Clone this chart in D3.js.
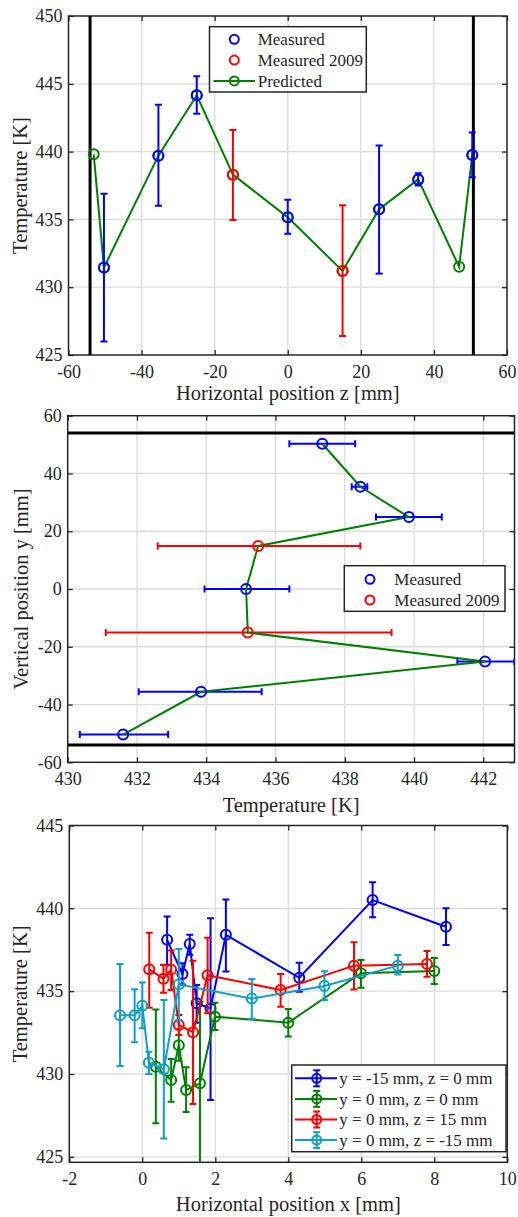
<!DOCTYPE html>
<html>
<head>
<meta charset="utf-8">
<script src="https://cdn.jsdelivr.net/npm/d3@7"></script>
<style>
  body { margin: 0; background: #fff; }
</style>
</head>
<body>
<div id="chart"></div>
<script>
// ---- panel 1: temperature along z ----
const zMeas = [-50.3, -35.4, -24.9, 0, 25, 35.7, 50.5];
const tzMeas = [431.45, 439.7, 444.15, 435.15, 435.75, 437.95, 439.75];
const tzMeasLo = [426.0, 436.0, 442.8, 433.95, 431.0, 437.5, 438.1];
const tzMeasHi = [436.9, 443.45, 445.55, 436.45, 440.45, 438.4, 441.4];
const z2009 = [-15, 15];
const tz2009 = [438.3, 431.2];
const tz2009Lo = [434.95, 426.4];
const tz2009Hi = [441.6, 436.05];
const zPred = [-53.1, -50.3, -35.4, -24.9, -15, 0, 15, 25, 35.7, 46.9, 50.5];
const tzPred = [439.8, 431.45, 439.7, 444.15, 438.3, 435.15, 431.2, 435.75, 437.95, 431.5, 439.75];
const zWalls = [-54.1, 50.8];
const zTicks = [-60, -40, -20, 0, 20, 40, 60];
const tTicks1 = [425, 430, 435, 440, 445, 450];

// ---- panel 2: temperature along y ----
const yMeas = [50.3, 35.4, 24.9, 0, -25.1, -35.6, -50.4];
const tyMeas = [437.35, 438.45, 439.85, 435.15, 442.05, 433.85, 431.6];
const tyMeasLo = [436.4, 438.2, 438.9, 433.95, 441.25, 432.05, 430.35];
const tyMeasHi = [438.3, 438.65, 440.8, 436.4, 442.9, 435.6, 432.9];
const y2009 = [14.9, -15.1];
const ty2009 = [435.5, 435.2];
const ty2009Lo = [432.6, 431.1];
const ty2009Hi = [438.45, 439.35];
const yPred = [50.3, 35.4, 24.9, 14.9, 0, -15.1, -25.1, -35.6, -50.4];
const tyPred = [437.35, 438.45, 439.85, 435.5, 435.15, 435.2, 442.05, 433.85, 431.6];
const yWalls = [54, -54];
const tTicks2 = [430, 432, 434, 436, 438, 440, 442];
const yTicks = [-60, -40, -20, 0, 20, 40, 60];

// ---- panel 3: temperature along x ----
const seriesNames = ["y = -15 mm, z = 0 mm", "y = 0 mm, z = 0 mm", "y = 0 mm, z = 15 mm", "y = 0 mm, z = -15 mm"];
const seriesColors = ["#0000ff", "#007f00", "#ff0000", "#0ea0c6"];
const xA = [0.68, 1.1, 1.3, 1.49, 1.87, 2.29, 4.3, 6.31, 8.32];
const tA = [438.1, 436.03, 437.85, 434.27, 433.96, 438.4, 435.81, 440.5, 438.89];
const tALo = [436.6, 435.4, 437.2, 433.1, 428.43, 436.18, 434.97, 439.46, 437.79];
const tAHi = [439.5, 436.68, 438.41, 435.37, 439.4, 440.54, 436.72, 441.57, 440.0];
const xB = [0.37, 0.79, 1.0, 1.2, 1.58, 1.99, 4.0, 5.99, 8.0];
const tB = [430.44, 429.64, 431.73, 429.03, 429.44, 433.46, 433.1, 436.08, 436.22];
const tBLo = [427.02, 428.33, 430.8, 427.7, 424.3, 432.66, 432.26, 435.2, 435.43];
const tBHi = [433.9, 430.9, 432.7, 430.4, 434.37, 434.3, 433.93, 436.88, 437.0];
const xC = [0.19, 0.58, 0.79, 1.0, 1.39, 1.79, 3.79, 5.8, 7.8];
const tC = [436.32, 435.75, 436.3, 432.96, 432.52, 435.96, 435.07, 436.54, 436.64];
const tCLo = [434.0, 434.9, 435.07, 432.35, 428.19, 433.66, 434.06, 435.1, 435.87];
const tCHi = [438.53, 436.58, 437.45, 433.56, 436.84, 438.23, 436.04, 437.95, 437.42];
const xD = [-0.61, -0.21, 0.0, 0.18, 0.59, 1.0, 3.0, 4.99, 7.0];
const tD = [433.54, 433.54, 434.12, 430.68, 430.28, 435.41, 434.55, 435.31, 436.54];
const tDLo = [430.48, 431.91, 432.76, 430.0, 426.1, 433.26, 433.32, 434.47, 436.0];
const tDHi = [436.64, 435.11, 435.53, 431.35, 434.47, 437.55, 435.74, 436.2, 437.18];
const xTicks3 = [-2, 0, 2, 4, 6, 8, 10];
const tTicks3 = [425, 430, 435, 440, 445];

const W = 518, H = 1217;
const svg = d3.select("#chart").append("svg").attr("width", W).attr("height", H);

const serif = '"Liberation Serif", "Times New Roman", Times, serif';
const tickFont = 18, labelFont = 20.5, legendFont = 17;
const ink = "#262626";

function makePanel(box, xDomain, yDomain, xTicks, yTicks, id) {
  const g = svg.append("g").attr("transform", `translate(${box.left},${box.top})`);
  const w = box.right - box.left, h = box.bottom - box.top;
  const x = d3.scaleLinear().domain(xDomain).range([0, w]);
  const y = d3.scaleLinear().domain(yDomain).range([h, 0]);

  // grid
  g.append("g").selectAll("line").data(xTicks.filter(t => x(t) > 0.5 && x(t) < w - 0.5)).join("line")
    .attr("x1", d => x(d)).attr("x2", d => x(d)).attr("y1", 0).attr("y2", h)
    .attr("stroke", "#dcdcdc").attr("stroke-width", 1.3);
  g.append("g").selectAll("line").data(yTicks.filter(t => y(t) > 0.5 && y(t) < h - 0.5)).join("line")
    .attr("y1", d => y(d)).attr("y2", d => y(d)).attr("x1", 0).attr("x2", w)
    .attr("stroke", "#dcdcdc").attr("stroke-width", 1.3);

  // axes with inward ticks on all sides
  const bottom = g.append("g").attr("transform", `translate(0,${h})`)
    .call(d3.axisBottom(x).tickValues(xTicks).tickSize(-5).tickPadding(10).tickFormat(d => String(d)));
  const left = g.append("g")
    .call(d3.axisLeft(y).tickValues(yTicks).tickSize(-5).tickPadding(6).tickFormat(d => String(d)));
  const top = g.append("g").call(d3.axisTop(x).tickValues(xTicks).tickSize(-5).tickFormat(""));
  const right = g.append("g").attr("transform", `translate(${w},0)`)
    .call(d3.axisRight(y).tickValues(yTicks).tickSize(-5).tickFormat(""));
  [bottom, left, top, right].forEach(a => {
    a.attr("font-family", serif).attr("font-size", tickFont);
    a.select(".domain").remove();
    a.selectAll(".tick line").attr("stroke", ink).attr("stroke-width", 1.3);
    a.selectAll(".tick text").style("font-family", serif).style("font-size", tickFont + "px").attr("fill", ink);
  });
  bottom.selectAll(".tick text").attr("dy", "0.71em");

  g.append("rect").attr("width", w).attr("height", h)
    .attr("fill", "none").attr("stroke", ink).attr("stroke-width", 1.5);

  g.append("clipPath").attr("id", id).append("rect").attr("width", w).attr("height", h);
  const plot = g.append("g").attr("clip-path", `url(#${id})`);
  return { g, plot, x, y, w, h };
}

function vErrors(p, xs, ts, lo, hi, color, cap) {
  const gg = p.plot.append("g").attr("stroke", color).attr("stroke-width", 2).attr("fill", "none");
  xs.forEach((v, i) => {
    const cx = p.x(v);
    gg.append("line").attr("x1", cx).attr("x2", cx).attr("y1", p.y(lo[i])).attr("y2", p.y(hi[i]));
    [lo[i], hi[i]].forEach(e => gg.append("line")
      .attr("x1", cx - cap).attr("x2", cx + cap).attr("y1", p.y(e)).attr("y2", p.y(e)));
  });
}

function hErrors(p, ys, ts, lo, hi, color, cap) {
  const gg = p.plot.append("g").attr("stroke", color).attr("stroke-width", 2).attr("fill", "none");
  ys.forEach((v, i) => {
    const cy = p.y(v);
    gg.append("line").attr("y1", cy).attr("y2", cy).attr("x1", p.x(lo[i])).attr("x2", p.x(hi[i]));
    [lo[i], hi[i]].forEach(e => gg.append("line")
      .attr("y1", cy - cap).attr("y2", cy + cap).attr("x1", p.x(e)).attr("x2", p.x(e)));
  });
}

function markers(p, pts, color, r) {
  p.plot.append("g").selectAll("circle").data(pts).join("circle")
    .attr("cx", d => d[0]).attr("cy", d => d[1]).attr("r", r)
    .attr("fill", "none").attr("stroke", color).attr("stroke-width", 2);
}

function label(x, y, s, rotate) {
  const t = svg.append("text").attr("text-anchor", "middle")
    .style("font-family", serif).style("font-size", labelFont + "px").attr("fill", ink).text(s);
  if (rotate) t.attr("transform", `translate(${x},${y}) rotate(-90)`);
  else t.attr("x", x).attr("y", y);
}

function legendBox(x0, y0, x1, y1) {
  svg.append("rect").attr("x", x0).attr("y", y0).attr("width", x1 - x0).attr("height", y1 - y0)
    .attr("fill", "#fff").attr("stroke", ink).attr("stroke-width", 1.5);
}
function legendText(x, y, s) {
  svg.append("text").attr("x", x).attr("y", y).attr("dy", "0.35em")
    .style("font-family", serif).style("font-size", legendFont + "px").attr("fill", ink).text(s);
}

// ================= panel 1 =================
const p1 = makePanel({ left: 68.5, right: 507, top: 16, bottom: 355 }, [-60, 60], [425, 450], zTicks, tTicks1, "clip1");
p1.plot.selectAll(".wall").data(zWalls).join("line")
  .attr("x1", d => p1.x(d)).attr("x2", d => p1.x(d)).attr("y1", 0).attr("y2", p1.h)
  .attr("stroke", "#000").attr("stroke-width", 3);
p1.plot.append("path").datum(zPred.map((z, i) => [z, tzPred[i]]))
  .attr("d", d3.line().x(d => p1.x(d[0])).y(d => p1.y(d[1])))
  .attr("fill", "none").attr("stroke", "#007f00").attr("stroke-width", 2);
markers(p1, zPred.map((z, i) => [p1.x(z), p1.y(tzPred[i])]), "#007f00", 5);
vErrors(p1, zMeas, tzMeas, tzMeasLo, tzMeasHi, "#0000ff", 3.5);
markers(p1, zMeas.map((z, i) => [p1.x(z), p1.y(tzMeas[i])]), "#0000ff", 5);
vErrors(p1, z2009, tz2009, tz2009Lo, tz2009Hi, "#ff0000", 3.5);
markers(p1, z2009.map((z, i) => [p1.x(z), p1.y(tz2009[i])]), "#ff0000", 5);

label(68.5 + p1.w / 2, 400, "Horizontal position z [mm]");
label(27, 16 + p1.h / 2, "Temperature [K]", true);

legendBox(209.5, 26.7, 366.3, 92);
[["Measured", "#0000ff", false], ["Measured 2009", "#ff0000", false], ["Predicted", "#007f00", true]].forEach((e, i) => {
  const ly = 39.3 + i * 20.8;
  if (e[2]) svg.append("line").attr("x1", 213.5).attr("x2", 255).attr("y1", ly).attr("y2", ly)
    .attr("stroke", e[1]).attr("stroke-width", 2);
  svg.append("circle").attr("cx", 234.3).attr("cy", ly).attr("r", 4.5)
    .attr("fill", "none").attr("stroke", e[1]).attr("stroke-width", 2);
  legendText(257.7, ly, e[0]);
});

// ================= panel 2 =================
const p2 = makePanel({ left: 67.7, right: 514.5, top: 415.7, bottom: 762.3 }, [430, 442.9], [-60, 60], tTicks2, yTicks, "clip2");
p2.plot.selectAll(".wall").data(yWalls).join("line")
  .attr("y1", d => p2.y(d)).attr("y2", d => p2.y(d)).attr("x1", 0).attr("x2", p2.w)
  .attr("stroke", "#000").attr("stroke-width", 3);
hErrors(p2, yMeas, tyMeas, tyMeasLo, tyMeasHi, "#0000ff", 3.5);
hErrors(p2, y2009, ty2009, ty2009Lo, ty2009Hi, "#ff0000", 3.5);
p2.plot.append("path").datum(yPred.map((v, i) => [tyPred[i], v]))
  .attr("d", d3.line().x(d => p2.x(d[0])).y(d => p2.y(d[1])))
  .attr("fill", "none").attr("stroke", "#007f00").attr("stroke-width", 2);
markers(p2, yMeas.map((v, i) => [p2.x(tyMeas[i]), p2.y(v)]), "#0000ff", 5);
markers(p2, y2009.map((v, i) => [p2.x(ty2009[i]), p2.y(v)]), "#ff0000", 5);

label(67.7 + p2.w / 2, 812, "Temperature [K]");
label(28, 415.7 + p2.h / 2, "Vertical position y [mm]", true);

legendBox(344.3, 565.7, 505, 611.3);
[["Measured", "#0000ff"], ["Measured 2009", "#ff0000"]].forEach((e, i) => {
  const ly = 579.3 + i * 20.7;
  svg.append("circle").attr("cx", 370).attr("cy", ly).attr("r", 4.5)
    .attr("fill", "none").attr("stroke", e[1]).attr("stroke-width", 2);
  legendText(394.3, ly, e[0]);
});

// ================= panel 3 =================
const p3 = makePanel({ left: 69.3, right: 507.3, top: 825.5, bottom: 1162.3 }, [-2, 10], [424.67, 445], xTicks3, tTicks3, "clip3");
const series3 = [[xA, tA, tALo, tAHi], [xB, tB, tBLo, tBHi], [xC, tC, tCLo, tCHi], [xD, tD, tDLo, tDHi]];
series3.forEach((s, k) => {
  const col = seriesColors[k];
  vErrors(p3, s[0], s[1], s[2], s[3], col, 3.5);
  p3.plot.append("path").datum(s[0].map((v, i) => [v, s[1][i]]))
    .attr("d", d3.line().x(d => p3.x(d[0])).y(d => p3.y(d[1])))
    .attr("fill", "none").attr("stroke", col).attr("stroke-width", 2);
  markers(p3, s[0].map((v, i) => [p3.x(v), p3.y(s[1][i])]), col, 5);
});

label(69.3 + p3.w / 2, 1211, "Horizontal position x [mm]");
label(27, 825.5 + p3.h / 2, "Temperature [K]", true);

legendBox(291.7, 1065, 506, 1151.7);
seriesNames.forEach((name, i) => {
  const ly = 1078.3 + i * 20.6, col = seriesColors[i];
  const lg = svg.append("g").attr("stroke", col).attr("stroke-width", 2).attr("fill", "none");
  lg.append("line").attr("x1", 295).attr("x2", 337).attr("y1", ly).attr("y2", ly);
  lg.append("line").attr("x1", 316.7).attr("x2", 316.7).attr("y1", ly - 8).attr("y2", ly + 8);
  lg.append("line").attr("x1", 313.2).attr("x2", 320.2).attr("y1", ly - 8).attr("y2", ly - 8);
  lg.append("line").attr("x1", 313.2).attr("x2", 320.2).attr("y1", ly + 8).attr("y2", ly + 8);
  lg.append("circle").attr("cx", 316.7).attr("cy", ly).attr("r", 4.5);
  legendText(339.3, ly, name);
});
</script>
</body>
</html>
